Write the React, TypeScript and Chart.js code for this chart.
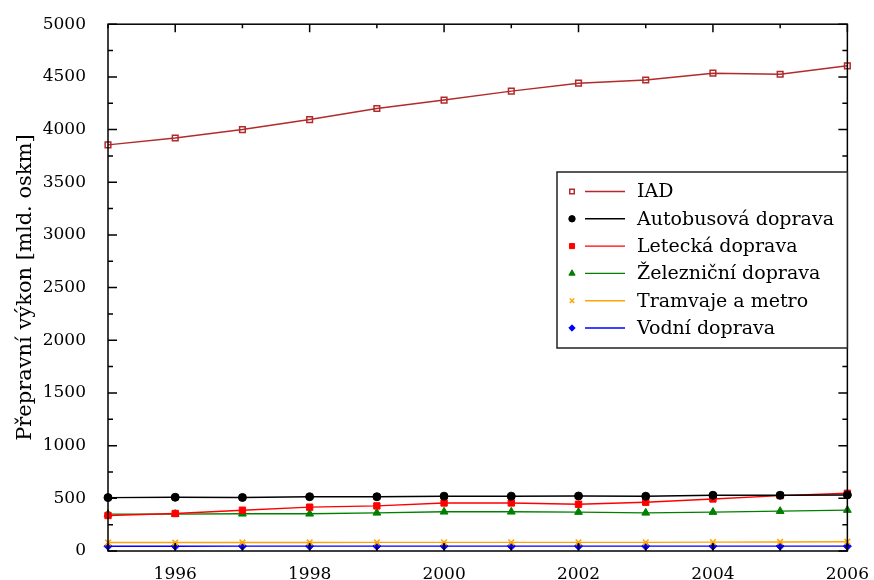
import React, { useEffect, useRef } from "react";
import { Chart, registerables } from "chart.js";
import { drawPoint } from "chart.js/helpers";

Chart.register(...registerables);

const years = [1995, 1996, 1997, 1998, 1999, 2000, 2001, 2002, 2003, 2004, 2005, 2006];

const iad = [3855, 3920, 4000, 4095, 4200, 4280, 4365, 4440, 4470, 4535, 4525, 4605];
const autobus = [507, 510, 508, 515, 515, 520, 520, 522, 520, 529, 529, 532];
const letecka = [337, 356, 387, 416, 428, 456, 456, 444, 463, 494, 526, 548];
const zeleznicni = [350, 350, 353, 353, 362, 372, 372, 369, 362, 369, 378, 388];
const tramvaje = [80, 80, 81, 81, 82, 82, 82, 82, 82, 84, 86, 88];
const vodni = [45, 45, 46, 46, 46, 46, 46, 46, 46, 46, 46, 46];

const yTickValues = [0, 500, 1000, 1500, 2000, 2500, 3000, 3500, 4000, 4500, 5000];
const yMinorTicks = [250, 750, 1250, 1750, 2250, 2750, 3250, 3750, 4250, 4750];
const xTickValues = [1996, 1998, 2000, 2002, 2004, 2006];
const xMinorTicks = [1995, 1997, 1999, 2001, 2003, 2005];

const seriesNames = ["IAD", "Autobusová doprava", "Letecká doprava", "Železniční doprava", "Tramvaje a metro", "Vodní doprava"];
const yTitle = "Přepravní výkon [mld. oskm]";

const FONT = "'DejaVu Serif', serif";

const frameAndLegend = {
  id: "frameAndLegend",
  afterDraw(chart: any) {
    const ctx = chart.ctx;
    const { left, right, top, bottom } = chart.chartArea;
    const xs = chart.scales.x;
    const ys = chart.scales.y;
    ctx.save();
    ctx.strokeStyle = "#000";
    ctx.lineWidth = 1.5;
    ctx.strokeRect(left, top, right - left, bottom - top);
    ctx.beginPath();
    const tick = (x1: number, y1: number, x2: number, y2: number) => {
      ctx.moveTo(x1, y1);
      ctx.lineTo(x2, y2);
    };
    yTickValues.forEach((v) => {
      const y = ys.getPixelForValue(v);
      tick(left, y, left + 9, y);
      tick(right, y, right - 9, y);
    });
    yMinorTicks.forEach((v) => {
      const y = ys.getPixelForValue(v);
      tick(left, y, left + 5, y);
      tick(right, y, right - 5, y);
    });
    xTickValues.forEach((v) => {
      const x = xs.getPixelForValue(v);
      tick(x, top, x, top + 8);
      tick(x, bottom, x, bottom - 8);
    });
    xMinorTicks.forEach((v) => {
      const x = xs.getPixelForValue(v);
      tick(x, top, x, top + 4);
      tick(x, bottom, x, bottom - 4);
    });
    ctx.stroke();

    // legend
    const bx = 557, by = 172, bw = right - 557, bh = 176;
    ctx.fillStyle = "#fff";
    ctx.fillRect(bx, by, bw, bh);
    ctx.lineWidth = 1.5;
    ctx.strokeStyle = "#222";
    ctx.strokeRect(bx, by, bw, bh);
    ctx.font = "19px " + FONT;
    ctx.textBaseline = "middle";
    ctx.textAlign = "left";
    chart.data.datasets.forEach((ds: any, i: number) => {
      const y = 191.5 + i * 27.3;
      ctx.strokeStyle = ds.borderColor;
      ctx.lineWidth = 1.4;
      ctx.beginPath();
      ctx.moveTo(585, y);
      ctx.lineTo(625, y);
      ctx.stroke();
      ctx.fillStyle = ds.pointBackgroundColor;
      ctx.strokeStyle = ds.pointBorderColor;
      ctx.lineWidth = ds.pointBorderWidth;
      drawPoint(ctx, { pointStyle: ds.pointStyle, radius: ds.pointRadius * 0.8, rotation: 0, borderWidth: ds.pointBorderWidth }, 572, y);
      ctx.fillStyle = "#000";
      ctx.fillText(ds.label, 637, y + 1);
    });
    ctx.restore();
  },
};

const mk = (vals: number[]) => vals.map((v, i) => ({ x: years[i], y: v }));

export default function App() {
  const ref = useRef<HTMLCanvasElement>(null);
  useEffect(() => {
    const makeDs = (i: number, vals: number[], color: string, style: string, radius: number, filled: boolean) => ({
      label: seriesNames[i],
      data: mk(vals),
      borderColor: color,
      borderWidth: 1.4,
      pointStyle: style,
      pointRadius: radius,
      pointBackgroundColor: filled ? color : "rgba(0,0,0,0)",
      pointBorderColor: color,
      pointBorderWidth: filled ? 1 : 1.5,
      tension: 0,
      clip: false,
    });
    const chart = new Chart(ref.current!, {
      type: "line",
      data: {
        datasets: [
          makeDs(0, iad, "#b22a2a", "rect", 4, false),
          makeDs(1, autobus, "#000000", "circle", 4, true),
          makeDs(2, letecka, "#ff0000", "rect", 4.5, true),
          makeDs(3, zeleznicni, "#008000", "triangle", 4.5, true),
          makeDs(4, tramvaje, "#ffa500", "crossRot", 4, false),
          makeDs(5, vodni, "#0000ff", "rectRot", 4, true),
        ] as any,
      },
      options: {
        animation: false,
        responsive: false,
        events: [],
        layout: { padding: { top: 22, right: 24, left: 0, bottom: 0 } },
        plugins: { legend: { display: false }, tooltip: { enabled: false } },
        scales: {
          x: {
            type: "linear",
            min: 1995,
            max: 2006,
            grid: { display: false },
            border: { display: false },
            afterBuildTicks: (s: any) => {
              s.ticks = xTickValues.map((v) => ({ value: v }));
            },
            afterFit: (s: any) => {
              s.height = 29;
            },
            ticks: {
              color: "#000",
              font: { family: FONT, size: 17 },
              padding: 5,
              maxRotation: 0,
              callback: (v: any) => String(v),
            },
          },
          y: {
            min: 0,
            max: 5000,
            grid: { display: false },
            border: { display: false },
            afterBuildTicks: (s: any) => {
              s.ticks = yTickValues.map((v) => ({ value: v }));
            },
            afterFit: (s: any) => {
              s.width = 108;
            },
            ticks: {
              color: "#000",
              font: { family: FONT, size: 17 },
              padding: 14,
              callback: (v: any) => String(v),
            },
            title: {
              display: true,
              text: yTitle,
              color: "#000",
              font: { family: FONT, size: 21 },
              padding: { top: 13, bottom: 0 },
            },
          },
        },
      },
      plugins: [frameAndLegend],
    });
    return () => chart.destroy();
  }, []);
  return (
    <div style={{ position: "fixed", left: 0, top: 0, width: 874, height: 580, background: "#fff" }}>
      <canvas ref={ref} width={874} height={580} style={{ width: 874, height: 580 }} />
    </div>
  );
}
